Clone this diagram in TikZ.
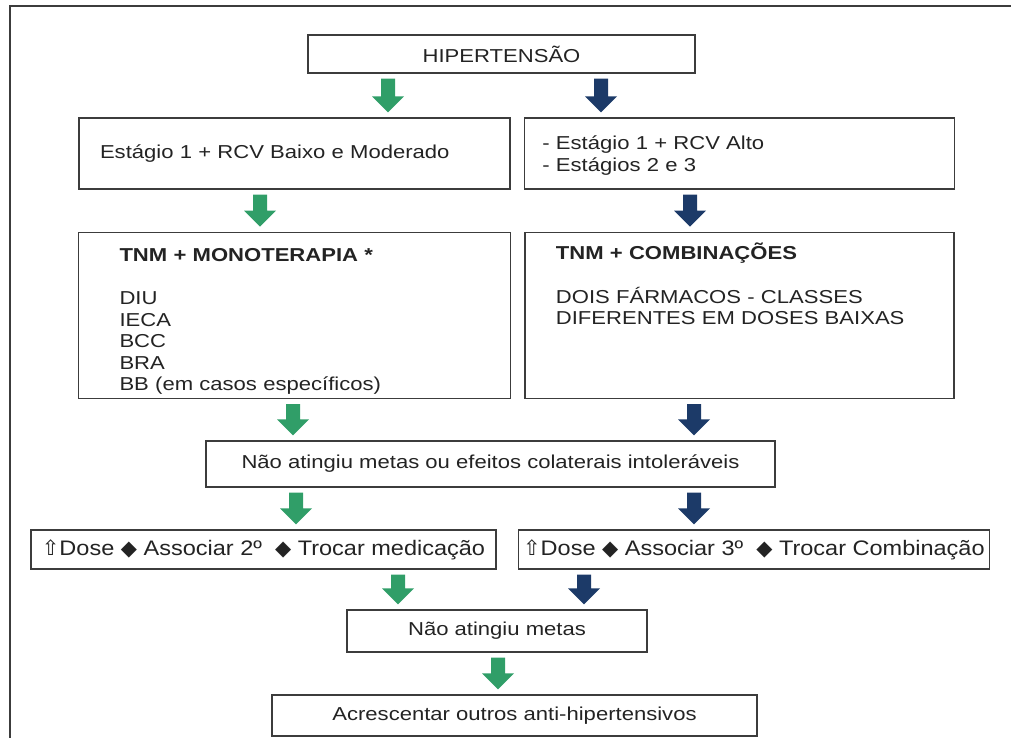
\documentclass[tikz,border=0pt]{standalone}
\usepackage{fontspec}
\setmainfont{Liberation Sans}[FakeStretch=1.18]
\newfontfamily\symfont{DejaVu Sans}
\newfontfamily\narrowfont{Liberation Sans}[FakeStretch=1.12]
\usetikzlibrary{positioning,calc}
\definecolor{arrgreen}{RGB}{48,158,104}
\definecolor{arrblue}{RGB}{28,58,104}
\definecolor{boxgray}{RGB}{60,60,60}
\definecolor{txtgray}{RGB}{35,35,35}

\begin{document}
\begin{tikzpicture}[x=1pt,y=-1pt,inner sep=0pt]
\tikzstyle{box}=[rectangle, draw=boxgray, line width=1.4pt, text=txtgray, font=\fontsize{18.7}{21.5}\selectfont]
\tikzstyle{lbox}=[box, align=left]
\tikzstyle{dbox}=[box, font=\narrowfont\fontsize{21}{24}\selectfont]
\tikzstyle{down}=[to path={($(\tikztostart)+(-7,5)$) -- ($(\tikztostart)+(7,5)$) -- ($(\tikztotarget)+(7,-21)$) -- ($(\tikztotarget)+(16,-21)$) -- ($(\tikztotarget)+(0,-5)$) -- ($(\tikztotarget)+(-16,-21)$) -- ($(\tikztotarget)+(-7,-21)$) -- cycle}]
\tikzstyle{gdown}=[down, fill=arrgreen]
\tikzstyle{bdown}=[down, fill=arrblue]
\useasboundingbox (0,0) rectangle (1011,738);
\draw[line width=2pt, boxgray] (9.5,738) -- (9.5,6.5) -- (1011,6.5);
\node[box, minimum width=387pt, minimum height=38pt] (hip) at (501.5,54) {HIPERTENSÃO};
\node[lbox, inner xsep=21pt, text width=389pt, minimum height=71pt] (est1) at (294.5,153.5) {Estágio 1 + RCV Baixo e Moderado};
\node[lbox, inner xsep=18pt, text width=394pt, minimum height=71pt] (est2) [right=13pt of est1] {\rule{0pt}{18pt}- Estágio 1 + RCV Alto\\[0.5pt]- Estágios 2 e 3};
\node[lbox, inner xsep=41pt, text width=350pt, minimum height=166pt] (mono) [below=42pt of est1] {\rule{0pt}{26pt}\textbf{TNM + MONOTERAPIA *}\\[21.5pt]DIU\\IECA\\BCC\\BRA\\BB (em casos específicos)};
\node[lbox, inner xsep=31pt, text width=367pt, minimum height=166pt] (comb) [right=13pt of mono] {\textbf{TNM + COMBINAÇÕES}\\[22.5pt]DOIS FÁRMACOS - CLASSES\\DIFERENTES EM DOSES BAIXAS\\[42pt]\mbox{}};
\node[box, minimum width=569pt, minimum height=46pt] (nao1) at (490.5,464) {Não atingiu metas ou efeitos colaterais intoleráveis};
\node[dbox, minimum width=465pt, minimum height=39pt] (dose2) at (263.5,549.5) {{\symfont ⇧}Dose {\symfont ◆} Associar 2º \ {\symfont ◆} Trocar medicação};
\node[dbox, minimum width=471pt, minimum height=39pt] (dose3) [right=21pt of dose2] {{\symfont ⇧}Dose {\symfont ◆} Associar 3º \ {\symfont ◆} Trocar Combinação};
\node[box, minimum width=300pt, minimum height=42pt] (nao2) at (497,631) {Não atingiu metas};
\node[box, minimum width=485pt, minimum height=41pt] (acr) at (514.5,715.5) {Acrescentar outros anti-hipertensivos};
% arrow columns
\coordinate (g1) at (388,0);
\coordinate (b1) at (601,0);
\coordinate (g2) at (260,0);
\coordinate (b2) at (690,0);
\coordinate (g3) at (293,0);
\coordinate (b3) at (694,0);
\coordinate (g4) at (296,0);
\coordinate (b4) at (694,0);
\coordinate (g5) at (398,0);
\coordinate (b5) at (584,0);
\coordinate (g6) at (498,0);
\path[gdown] (g1 |- hip.south) to (g1 |- est1.north);
\path[bdown] (b1 |- hip.south) to (b1 |- est2.north);
\path[gdown] (g2 |- est1.south) to (g2 |- mono.north);
\path[bdown] (b2 |- est2.south) to (b2 |- comb.north);
\path[gdown] (g3 |- mono.south) to (g3 |- nao1.north);
\path[bdown] (b3 |- comb.south) to (b3 |- nao1.north);
\path[gdown] (g4 |- nao1.south) to (g4 |- dose2.north);
\path[bdown] (b4 |- nao1.south) to (b4 |- dose3.north);
\path[gdown] (g5 |- dose2.south) to (g5 |- nao2.north);
\path[bdown] (b5 |- dose3.south) to (b5 |- nao2.north);
\path[gdown] (g6 |- nao2.south) to (g6 |- acr.north);
\end{tikzpicture}
\end{document}
